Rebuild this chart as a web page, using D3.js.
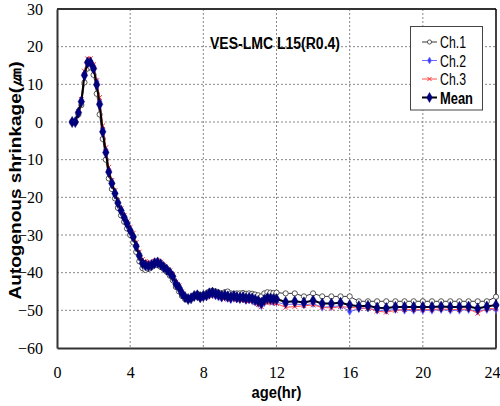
<!DOCTYPE html>
<html>
<head>
<meta charset="utf-8">
<script src="https://cdn.jsdelivr.net/npm/d3@7"></script>
<style>
  body { margin: 0; background: #fff; }
</style>
</head>
<body>
<div id="chart"></div>
<script>
// 时间 (hr)
const ages = [0.83, 1.0, 1.17, 1.33, 1.5, 1.67, 1.83, 2.0, 2.17, 2.33, 2.5, 2.67, 2.83, 3.0, 3.17, 3.33, 3.5, 3.67, 3.83, 4.0,
  4.17, 4.33, 4.5, 4.67, 4.83, 5.0, 5.17, 5.33, 5.5, 5.67, 5.83, 6.0, 6.17, 6.33, 6.5, 6.67, 6.83, 7.0, 7.17, 7.33,
  7.5, 7.67, 7.83, 8.0, 8.17, 8.33, 8.5, 8.67, 8.83, 9.0, 9.17, 9.33, 9.5, 9.67, 9.83, 10.0, 10.17, 10.33, 10.5, 10.67,
  10.83, 11.0, 11.17, 11.33, 11.5, 11.67, 11.83, 12.0,
  12.5, 13, 13.5, 14, 14.5, 15, 15.5, 16, 16.5, 17, 17.5, 18, 18.5, 19, 19.5, 20, 20.5, 21, 21.5, 22, 22.5, 23, 23.5, 24]

const ch1 = [0, 0, 2.0, 4.5, 10.5, 14.2, 14.5, 12.5, 7.5, 2.0, -4.5, -10.0, -15.0, -17.8, -20.3, -22.8, -24.8, -26.5, -28.3, -30.0,
  -32.0, -34.5, -37.0, -38.8, -39.3, -39.0, -38.5, -38.0, -38.0, -38.5, -39.0, -39.8, -40.8, -42.0, -43.8, -45.0, -46.2, -47.0, -47.2, -46.8,
  -46.0, -45.6, -46.0, -45.8, -45.5, -45.0, -44.8, -45.0, -45.3, -45.5, -45.2, -45.0, -45.5, -45.6, -45.5, -45.5, -45.4, -45.6, -45.5, -45.6,
  -45.8, -46.0, -46.3, -45.5, -45.2, -45.3, -45.4, -45.3,
  -45.5, -45.5, -46.3, -45.5, -46.3, -46.3, -46.3, -46.3, -47.6, -47.6, -47.6, -47.6, -47.6, -47.6, -47.6, -47.6, -47.6, -47.6, -47.6, -47.6, -47.6, -47.6, -47.6, -46.4]

const ch2 = [0, 0, 2.8, 5.8, 12.8, 16.0, 16.2, 14.8, 10.8, 5.5, -1.8, -7.5, -12.8, -16.0, -18.8, -21.2, -23.3, -25.0, -26.8, -28.6,
  -30.2, -32.6, -35.0, -37.2, -37.8, -38.0, -37.8, -37.2, -37.0, -37.5, -38.2, -39.0, -39.8, -40.8, -42.5, -43.5, -45.0, -46.3, -46.9, -46.8,
  -46.3, -46.2, -46.8, -46.5, -46.4, -46.0, -45.8, -46.2, -46.5, -46.8, -46.5, -46.9, -47.2, -46.8, -47.0, -47.2, -47.0, -47.4, -47.2, -47.5,
  -47.8, -48.2, -48.8, -48.0, -47.5, -47.6, -47.8, -47.8,
  -48.5, -48.3, -48.6, -48.2, -49.2, -49.0, -48.8, -50.3, -49.6, -49.4, -50.0, -50.0, -49.8, -50.0, -50.0, -50.0, -50.0, -49.8, -50.0, -50.0, -49.8, -50.2, -49.8, -49.8]

const ch3 = [0, 0, 2.8, 6.0, 13.5, 16.8, 16.8, 15.2, 11.0, 6.5, -1.0, -6.8, -12.0, -15.5, -18.2, -20.8, -23.0, -24.8, -26.5, -28.0,
  -29.5, -32.0, -34.5, -36.5, -37.0, -37.2, -37.5, -37.0, -36.8, -37.2, -38.0, -38.8, -39.5, -40.5, -42.5, -43.5, -45.2, -46.3, -46.8, -46.8,
  -46.2, -46.2, -46.8, -46.3, -46.5, -46.0, -45.8, -46.2, -46.0, -46.5, -46.8, -47.0, -46.8, -46.5, -47.2, -47.0, -47.2, -47.4, -47.5, -47.4,
  -48.0, -48.5, -49.0, -47.8, -48.0, -47.8, -48.0, -48.2,
  -49.2, -49.0, -48.8, -48.6, -49.2, -49.4, -49.0, -49.2, -49.4, -49.4, -50.2, -50.5, -50.0, -49.8, -49.8, -49.8, -49.8, -49.6, -49.8, -49.8, -49.6, -50.8, -49.5, -49.6]

const mean = [0, 0, 2.5, 5.4, 12.4, 15.8, 15.8, 14.2, 9.9, 4.7, -2.6, -8.1, -13.3, -16.3, -19.0, -21.5, -23.5, -25.3, -27.0, -28.8,
  -30.5, -33.0, -35.5, -37.5, -38.0, -38.2, -38.0, -37.5, -37.3, -37.8, -38.5, -39.2, -40.0, -41.0, -43.0, -44.0, -45.5, -46.5, -47.0, -46.8,
  -46.2, -46.0, -46.5, -46.2, -46.0, -45.5, -45.3, -45.6, -45.8, -46.2, -46.0, -46.3, -46.5, -46.2, -46.5, -46.6, -46.5, -46.8, -46.7, -46.8,
  -47.2, -47.5, -48.0, -47.2, -46.8, -46.9, -47.0, -47.0,
  -47.8, -47.6, -47.9, -47.4, -48.2, -48.2, -48.0, -48.6, -48.9, -48.8, -49.3, -49.4, -49.1, -49.1, -49.1, -49.1, -49.1, -49.0, -49.1, -49.1, -49.0, -49.5, -49.0, -48.6]

const xTicks = [0, 4, 8, 12, 16, 20, 24]
const yTicks = [30, 20, 10, 0, -10, -20, -30, -40, -50, -60]

const W = 500, H = 406
const m = { left: 57, right: 4, top: 9, bottom: 58 }
const serif = '"Liberation Serif", "DejaVu Serif", "Times New Roman", serif'
const sans = '"Liberation Sans", Arial, sans-serif'

const svg = d3.select('#chart')
  .append('svg')
  .attr('width', W)
  .attr('height', H)

const x = d3.scaleLinear().domain([0, 24]).range([m.left, W - m.right])
const y = d3.scaleLinear().domain([-60, 30]).range([H - m.bottom, m.top])

// 网格线
svg.append('g')
  .selectAll('line.vg')
  .data(xTicks.slice(1, -1))
  .enter()
  .append('line')
  .attr('x1', d => x(d)).attr('x2', d => x(d))
  .attr('y1', y(30)).attr('y2', y(-60))
  .attr('stroke', '#888').attr('stroke-width', 1).attr('stroke-dasharray', '2,2')
svg.append('g')
  .selectAll('line.hg')
  .data(yTicks.slice(1, -1))
  .enter()
  .append('line')
  .attr('x1', x(0)).attr('x2', x(24))
  .attr('y1', d => y(d)).attr('y2', d => y(d))
  .attr('stroke', '#888').attr('stroke-width', 1).attr('stroke-dasharray', '2,2')

// 边框
svg.append('line').attr('x1', x(0)).attr('x2', x(24)).attr('y1', y(30)).attr('y2', y(30))
  .attr('stroke', '#333').attr('stroke-width', 2)
svg.append('line').attr('x1', x(24)).attr('x2', x(24)).attr('y1', y(30)).attr('y2', y(-60))
  .attr('stroke', '#000').attr('stroke-width', 1.5)

// 坐标轴
const xAxis = svg.append('g')
  .attr('transform', 'translate(0,' + y(-60) + ')')
  .call(d3.axisBottom(x).tickValues(xTicks).tickSize(0).tickPadding(19))
const yAxis = svg.append('g')
  .attr('transform', 'translate(' + x(0) + ',0)')
  .call(d3.axisLeft(y).tickValues(yTicks).tickSize(0).tickPadding(14))
;[xAxis, yAxis].forEach(g => {
  g.attr('font-family', serif)
  g.select('.domain').attr('stroke', '#333').attr('stroke-width', 2)
  g.selectAll('text')
    .attr('font-family', serif)
    .attr('font-size', 16)
    .attr('fill', '#000')
})
// 最后一个刻度文字靠右，避免被裁切
xAxis.selectAll('.tick')
  .filter(d => d === 24)
  .select('text')
  .attr('text-anchor', 'end')
  .attr('dx', 4)

// 系列配置
const series = [
  { name: 'Ch.1', values: ch1, line: '#000', lw: 0.8, marker: 'circle', tl: 26 },
  { name: 'Ch.2', values: ch2, line: '#6a6aff', lw: 1, marker: 'diamond', tl: 26 },
  { name: 'Ch.3', values: ch3, line: '#ff5050', lw: 1, marker: 'cross', tl: 26 },
  { name: 'Mean', values: mean, line: '#000', lw: 2, marker: 'mean', tl: 33 }
]

const lineGen = d3.line()
  .x(d => x(d[0]))
  .y(d => y(d[1]))

const drawMarker = (g, kind, cx, cy, scale) => {
  const k = scale || 1
  if (kind === 'circle') {
    g.append('circle').attr('cx', cx).attr('cy', cy).attr('r', 2.6 * k)
      .attr('fill', '#fff').attr('stroke', '#444').attr('stroke-width', 0.9)
  } else if (kind === 'diamond') {
    g.append('path').attr('d', d3.symbol().type(d3.symbolDiamond).size(18 * k)())
      .attr('transform', 'translate(' + cx + ',' + cy + ')')
      .attr('fill', '#3a3aff').attr('stroke', '#8080ff').attr('stroke-width', 0.6)
  } else if (kind === 'cross') {
    g.append('path').attr('d', d3.symbol().type(d3.symbolX).size(16 * k)())
      .attr('transform', 'translate(' + cx + ',' + cy + ')')
      .attr('fill', 'none').attr('stroke', '#ff3030').attr('stroke-width', 1)
  } else {
    g.append('path').attr('d', d3.symbol().type(d3.symbolDiamond).size(36 * k)())
      .attr('transform', 'translate(' + cx + ',' + cy + ')')
      .attr('fill', '#000080').attr('stroke', '#00006a').attr('stroke-width', 0.5)
  }
}

const plot = svg.append('g')
series.forEach(s => {
  const pts = ages.map((a, i) => [a, s.values[i]])
  const g = plot.append('g')
  g.append('path')
    .attr('d', lineGen(pts))
    .attr('fill', 'none')
    .attr('stroke', s.line)
    .attr('stroke-width', s.lw)
  pts.forEach(p => drawMarker(g, s.marker, x(p[0]), y(p[1])))
})

// 标题
svg.append('text')
  .attr('x', 210).attr('y', 49)
  .style('font-family', sans)
  .attr('font-weight', 'bold')
  .attr('font-size', 16)
  .attr('textLength', 130)
  .attr('lengthAdjust', 'spacingAndGlyphs')
  .text('VES-LMC L15(R0.4)')

// 图例
const lg = svg.append('g')
lg.append('rect')
  .attr('x', 410.5).attr('y', 26.5).attr('width', 72).attr('height', 83.5)
  .attr('fill', '#fff').attr('stroke', '#444').attr('stroke-width', 1)
series.forEach((s, i) => {
  const ly = 42 + i * 18.5
  lg.append('line')
    .attr('x1', 422).attr('x2', 437).attr('y1', ly).attr('y2', ly)
    .attr('stroke', s.line).attr('stroke-width', s.lw)
  drawMarker(lg, s.marker, 429.5, ly, 0.8)
  lg.append('text')
    .attr('x', 440).attr('y', ly + 6)
    .style('font-family', sans)
    .attr('font-size', 17)
    .attr('font-weight', s.name === 'Mean' ? 'bold' : 'normal')
    .attr('textLength', s.tl)
    .attr('lengthAdjust', 'spacingAndGlyphs')
    .text(s.name)
})

// 轴标题
svg.append('text')
  .attr('x', (x(0) + x(24)) / 2).attr('y', 398)
  .attr('text-anchor', 'middle')
  .style('font-family', sans)
  .attr('font-weight', 'bold')
  .attr('font-size', 16)
  .attr('textLength', 50)
  .attr('lengthAdjust', 'spacingAndGlyphs')
  .text('age(hr)')
svg.append('text')
  .attr('transform', 'translate(21,' + ((y(30) + y(-60)) / 2 + 2) + ') rotate(-90)')
  .attr('text-anchor', 'middle')
  .style('font-family', sans)
  .attr('font-weight', 'bold')
  .attr('font-size', 17)
  .attr('textLength', 238)
  .attr('lengthAdjust', 'spacingAndGlyphs')
  .text('Autogenous shrinkage(㎛)')
</script>
</body>
</html>
